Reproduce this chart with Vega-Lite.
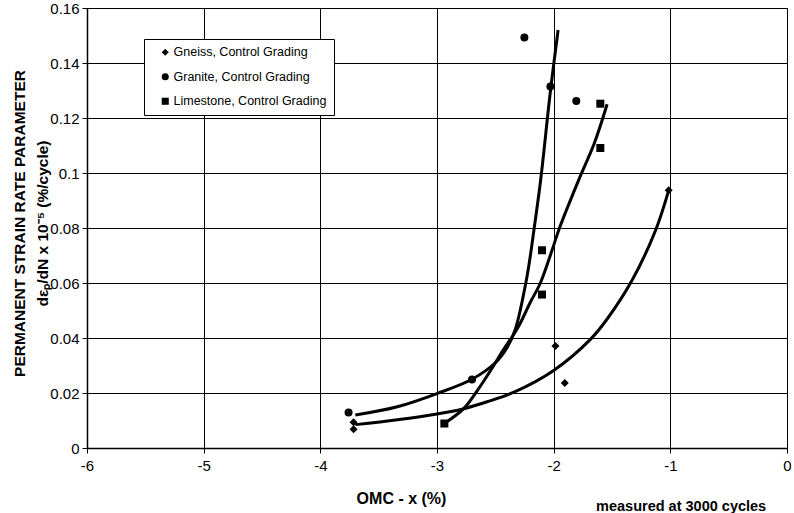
{
  "$schema": "https://vega.github.io/schema/vega-lite/v6.json",
  "width": 700,
  "height": 440,
  "autosize": "none",
  "padding": {"left": 87, "top": 8, "right": 7, "bottom": 65},
  "background": "white",
  "config": {
    "font": "Liberation Sans",
    "view": {"stroke": "black", "strokeWidth": 1}
  },
  "title": {
    "text": "measured at 3000 cycles",
    "orient": "bottom",
    "anchor": "end",
    "fontSize": 14.5,
    "fontWeight": "bold",
    "font": "Liberation Sans",
    "color": "black",
    "dx": -25,
    "offset": -7
  },
  "datasets": {
    "curves": [
      {"series": "Gneiss", "x": -3.70, "y": 0.0085},
      {"series": "Gneiss", "x": -3.34, "y": 0.0103},
      {"series": "Gneiss", "x": -3.00, "y": 0.0124},
      {"series": "Gneiss", "x": -2.77, "y": 0.0143},
      {"series": "Gneiss", "x": -2.57, "y": 0.0168},
      {"series": "Gneiss", "x": -2.34, "y": 0.0203},
      {"series": "Gneiss", "x": -2.00, "y": 0.0282},
      {"series": "Gneiss", "x": -1.685, "y": 0.0395},
      {"series": "Gneiss", "x": -1.54, "y": 0.0470},
      {"series": "Gneiss", "x": -1.328, "y": 0.0610},
      {"series": "Gneiss", "x": -1.128, "y": 0.0790},
      {"series": "Gneiss", "x": -1.014, "y": 0.0937},
      {"series": "Granite", "x": -3.70, "y": 0.0120},
      {"series": "Granite", "x": -3.34, "y": 0.0150},
      {"series": "Granite", "x": -3.00, "y": 0.0198},
      {"series": "Granite", "x": -2.70, "y": 0.0250},
      {"series": "Granite", "x": -2.50, "y": 0.0310},
      {"series": "Granite", "x": -2.40, "y": 0.0365},
      {"series": "Granite", "x": -2.33, "y": 0.0430},
      {"series": "Granite", "x": -2.23, "y": 0.0620},
      {"series": "Granite", "x": -2.17, "y": 0.0790},
      {"series": "Granite", "x": -2.11, "y": 0.0980},
      {"series": "Granite", "x": -2.03, "y": 0.1290},
      {"series": "Granite", "x": -1.962, "y": 0.1520},
      {"series": "Limestone", "x": -2.937, "y": 0.0089},
      {"series": "Limestone", "x": -2.772, "y": 0.0143},
      {"series": "Limestone", "x": -2.643, "y": 0.0216},
      {"series": "Limestone", "x": -2.53, "y": 0.0289},
      {"series": "Limestone", "x": -2.43, "y": 0.0358},
      {"series": "Limestone", "x": -2.31, "y": 0.0435},
      {"series": "Limestone", "x": -2.20, "y": 0.0530},
      {"series": "Limestone", "x": -2.114, "y": 0.0600},
      {"series": "Limestone", "x": -2.014, "y": 0.0719},
      {"series": "Limestone", "x": -1.95, "y": 0.0800},
      {"series": "Limestone", "x": -1.786, "y": 0.0974},
      {"series": "Limestone", "x": -1.65, "y": 0.1110},
      {"series": "Limestone", "x": -1.542, "y": 0.1250}
    ],
    "points": [
      {"series": "Gneiss, Control Grading", "x": -3.715, "y": 0.0094},
      {"series": "Gneiss, Control Grading", "x": -3.715, "y": 0.0068},
      {"series": "Gneiss, Control Grading", "x": -1.985, "y": 0.0371},
      {"series": "Gneiss, Control Grading", "x": -1.905, "y": 0.0236},
      {"series": "Gneiss, Control Grading", "x": -1.014, "y": 0.0937},
      {"series": "Granite, Control Grading", "x": -3.758, "y": 0.0129},
      {"series": "Granite, Control Grading", "x": -2.70, "y": 0.0249},
      {"series": "Granite, Control Grading", "x": -2.251, "y": 0.1493},
      {"series": "Granite, Control Grading", "x": -2.028, "y": 0.1315},
      {"series": "Granite, Control Grading", "x": -1.806, "y": 0.1262},
      {"series": "Limestone, Control Grading", "x": -2.937, "y": 0.0089},
      {"series": "Limestone, Control Grading", "x": -2.10, "y": 0.0558},
      {"series": "Limestone, Control Grading", "x": -2.10, "y": 0.0719},
      {"series": "Limestone, Control Grading", "x": -1.60, "y": 0.1091},
      {"series": "Limestone, Control Grading", "x": -1.60, "y": 0.1252}
    ]
  },
  "encoding": {
    "x": {
      "field": "x",
      "type": "quantitative",
      "scale": {"domain": [-6, 0], "nice": false, "zero": false},
      "axis": {
        "values": [-6, -5, -4, -3, -2, -1, 0],
        "labelExpr": "toString(datum.value)",
        "grid": true,
        "gridColor": "black",
        "gridOpacity": 1,
        "gridWidth": 1,
        "domainColor": "black",
        "domainWidth": 1.5,
        "tickColor": "black",
        "tickSize": 5,
        "labelFontSize": 15,
        "labelColor": "black",
        "labelPadding": 5,
        "labelFlush": false,
        "title": "OMC - x (%)",
        "titleFontSize": 16,
        "titleFontWeight": "bold",
        "titleColor": "black",
        "titleX": 314,
        "titleY": 55.6,
        "titleBaseline": "alphabetic"
      }
    },
    "y": {
      "field": "y",
      "type": "quantitative",
      "scale": {"domain": [0, 0.16], "nice": false},
      "axis": {
        "values": [0, 0.02, 0.04, 0.06, 0.08, 0.1, 0.12, 0.14, 0.16],
        "format": ".2~f",
        "grid": true,
        "gridColor": "black",
        "gridOpacity": 1,
        "gridWidth": 1,
        "domainColor": "black",
        "domainWidth": 1.5,
        "tickColor": "black",
        "tickSize": 5,
        "labelFontSize": 15,
        "labelColor": "black",
        "labelPadding": 3,
        "labelFlush": false,
        "title": ["PERMANENT STRAIN RATE PARAMETER", "dεₚ/dN x 10⁻⁵ (%/cycle)"],
        "titleFontSize": 15.5,
        "titleFontWeight": "bold",
        "titleColor": "black",
        "titleLineHeight": 23.5,
        "titleX": -60,
        "titleY": 215,
        "titleBaseline": "bottom",
        "titleAlign": "center"
      }
    }
  },
  "layer": [
    {
      "data": {"name": "curves"},
      "mark": {"type": "line", "interpolate": "catmull-rom", "color": "black", "strokeWidth": 3},
      "encoding": {
        "detail": {"field": "series", "type": "nominal"},
        "order": {"field": "x", "type": "quantitative"}
      }
    },
    {
      "data": {"name": "points"},
      "mark": {"type": "point", "filled": true, "color": "black", "opacity": 1, "size": 64},
      "encoding": {
        "shape": {
          "field": "series",
          "type": "nominal",
          "scale": {
            "domain": ["Gneiss, Control Grading", "Granite, Control Grading", "Limestone, Control Grading"],
            "range": ["diamond", "circle", "square"]
          },
          "legend": {
            "title": null,
            "orient": "none",
            "legendX": 57,
            "legendY": 31,
            "fillColor": "white",
            "strokeColor": "black",
            "padding": 7,
            "symbolOffset": 8,
            "rowPadding": 10.5,
            "labelFontSize": 12.5,
            "labelFont": "Liberation Sans",
            "labelColor": "black",
            "labelOffset": 2,
            "symbolFillColor": "black",
            "symbolStrokeColor": "black",
            "symbolSize": 50
          }
        }
      }
    }
  ]
}
